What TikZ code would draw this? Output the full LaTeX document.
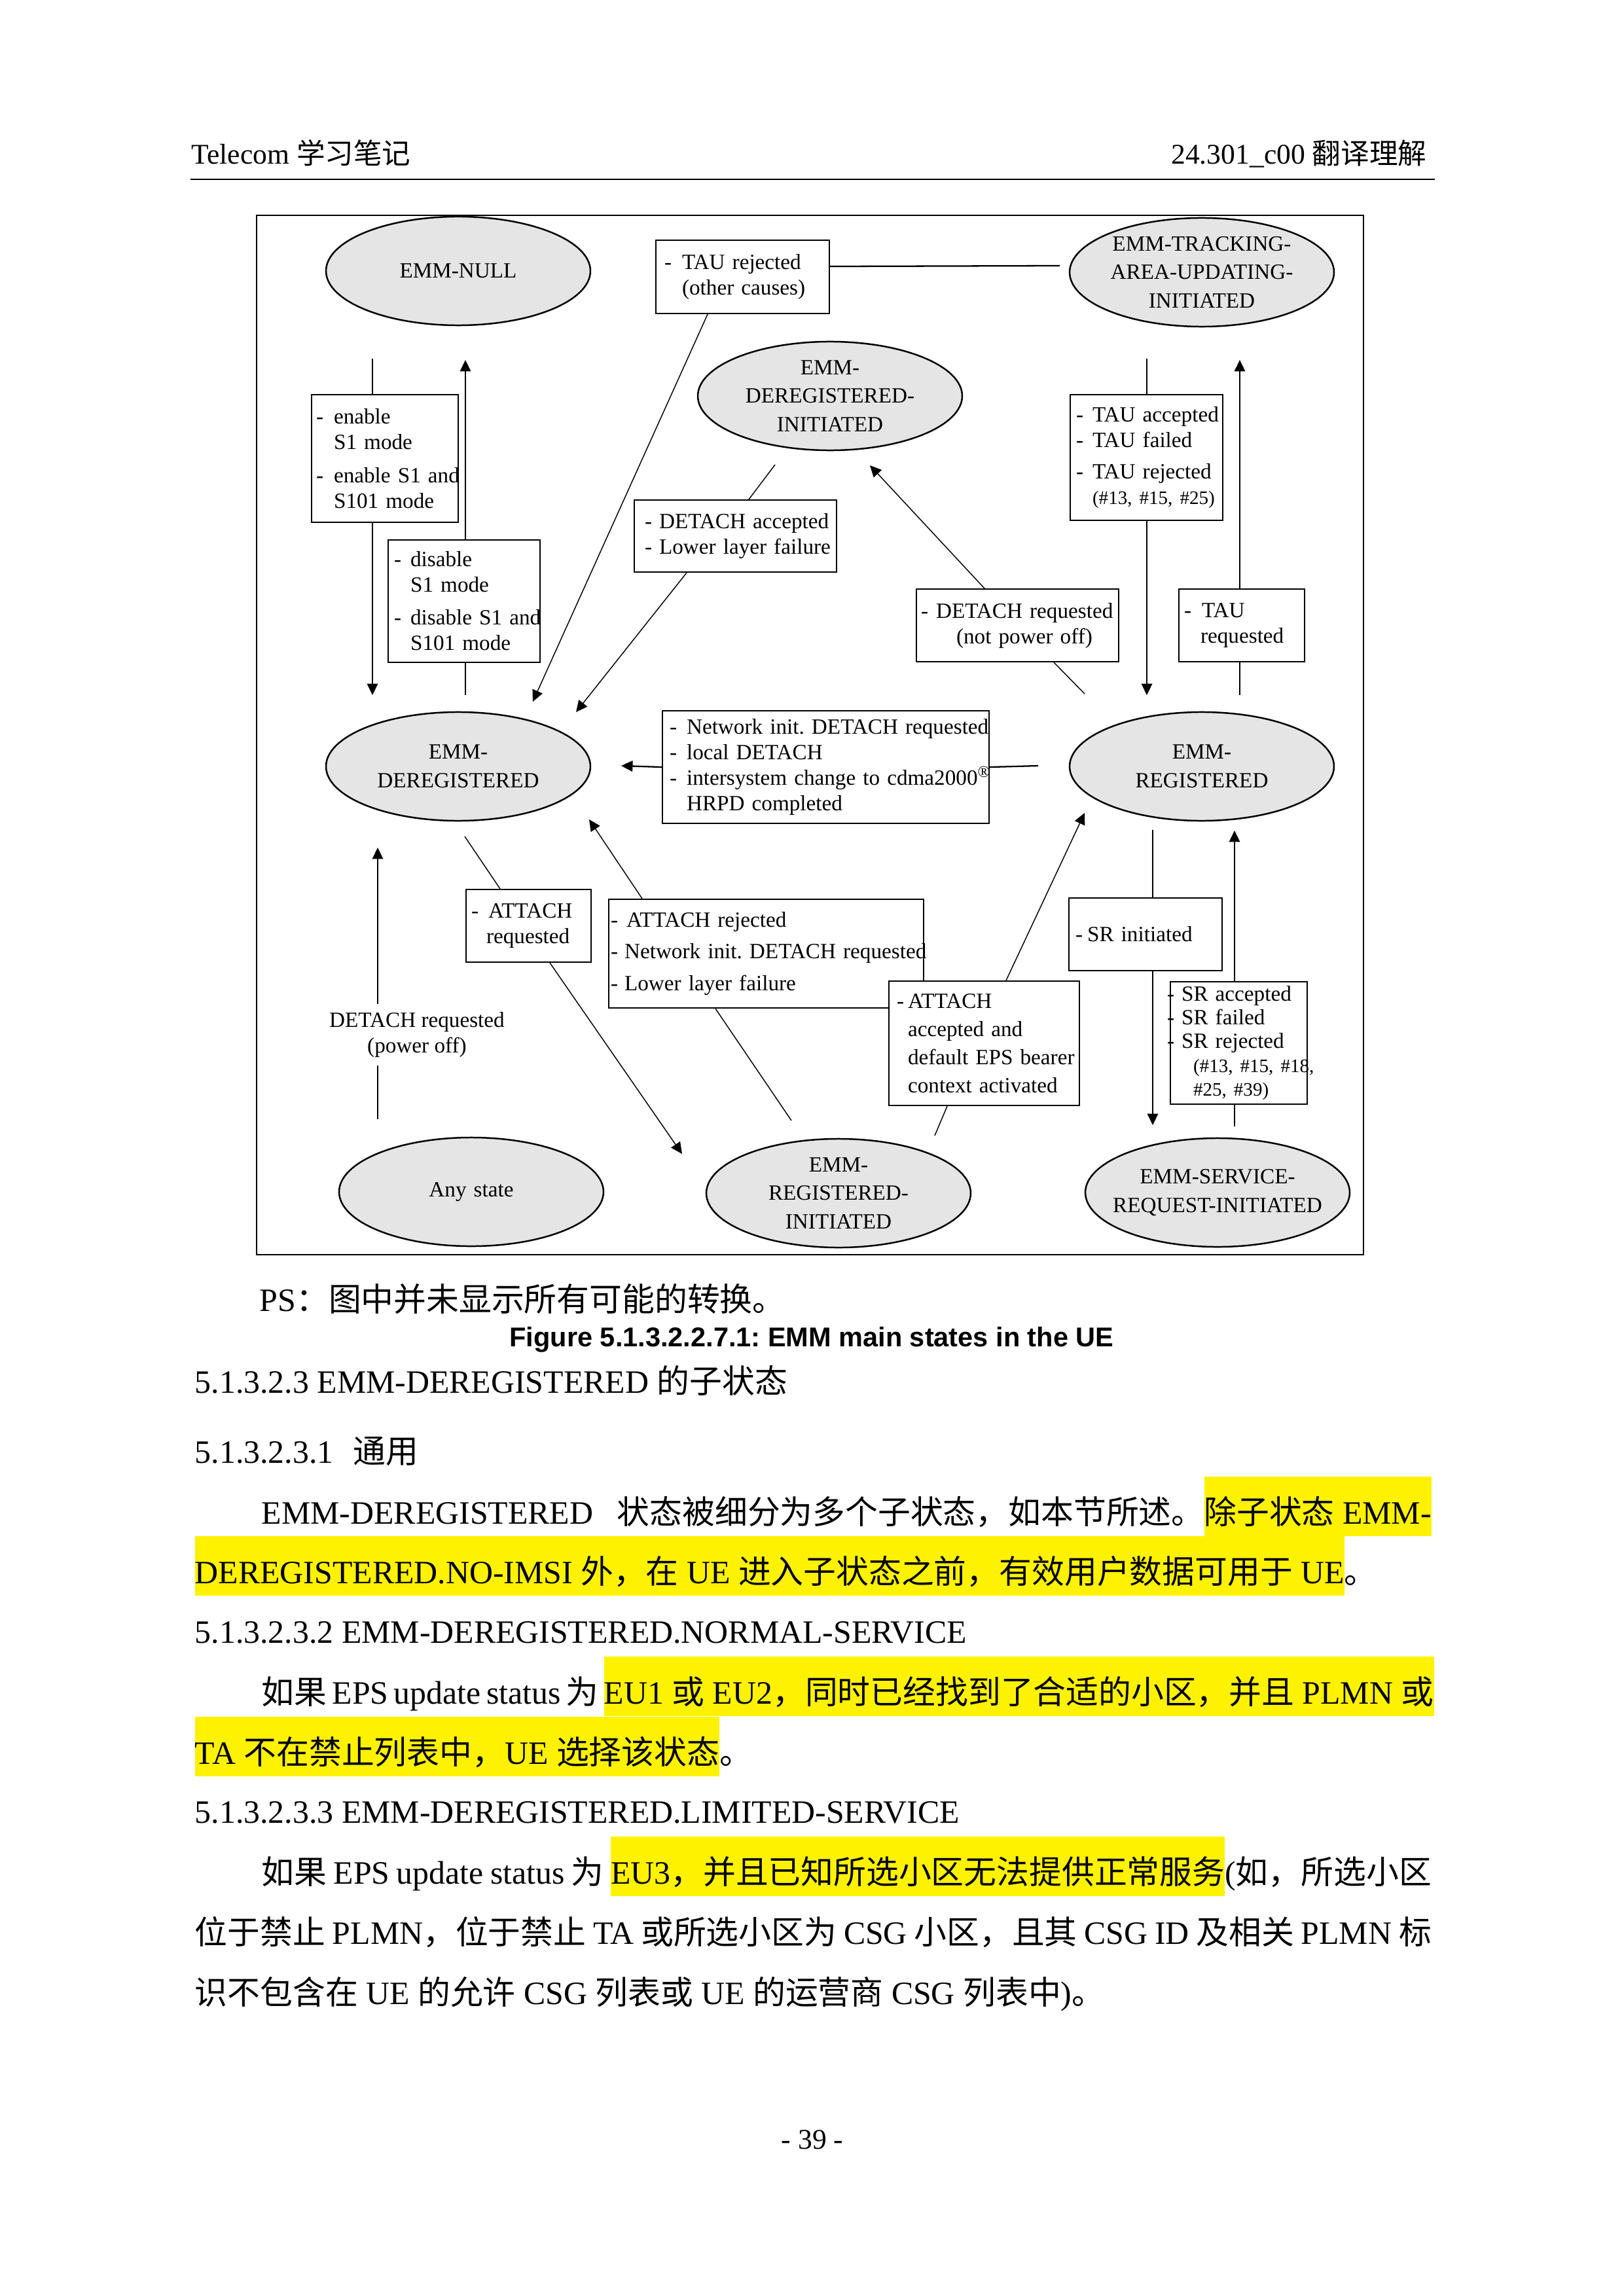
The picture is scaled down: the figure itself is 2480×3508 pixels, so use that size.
\documentclass[tikz,border=0pt]{standalone}
\usepackage{fontspec}
\setmainfont{Liberation Serif}
\newfontfamily\cjk{Noto Sans CJK SC}
\newfontfamily\capfont{Liberation Sans}
\usetikzlibrary{shapes.geometric,arrows.meta}
\definecolor{ellgray}{RGB}{229,229,229}
\newdimen\px \px=0.24088pt
\frenchspacing
\newcommand\zh[1]{{\cjk #1}}
\newcommand\boxfont{\fontsize{8}{9.4}\selectfont}
\newcommand\elline[1]{\makebox[0pt]{#1}}
\newcommand\bdsh[1][27]{\makebox[#1\px][l]{-}}
\newcommand\bspc[1][27]{\hspace*{#1\px}}
\newcommand\yhl[1]{{\fboxsep=0pt\colorbox{yellow}{\rule[-4.6pt]{0pt}{21.9pt}#1}}}
\tikzset{
  ell/.style={ellipse, draw, fill=ellgray, line width=0.6pt, minimum width=97.3pt,
    minimum height=40pt, inner sep=0pt, text width=0pt, align=center,
    font=\fontsize{8}{10.5}\selectfont},
  tbox/.style n args={5}{
    /utils/exec={%
      \pgfmathsetlengthmacro\tbw{(#3-#1-2*#5)*0.24088pt}%
      \pgfmathsetlengthmacro\tbh{(#4-#2)*0.24088pt}%
      \pgfmathsetlengthmacro\tbm{#5*0.24088pt}},
    text width/.expanded=\tbw, minimum height/.expanded=\tbh,
    inner xsep/.expanded=\tbm, inner ysep=0pt, draw, fill=white,
    line width=0.5pt, rectangle, anchor=north west, align=left, font=\boxfont},
  cn/.style={line width=0.35pt},
  cnt/.style={line width=0.55pt},
  arr/.style={-{Triangle[length=4.2pt,width=4pt]}},
  btxt/.style={anchor=base west, inner sep=0pt, font=\fontsize{12}{14}\selectfont},
}
\begin{document}
\begin{tikzpicture}[x=0.24088pt,y=-0.24088pt]
\fill[white] (0,0) rectangle (2480,3508);
\useasboundingbox (0,0) rectangle (2480,3508);

% header
\node[anchor=base west, inner sep=0pt, font=\fontsize{10.5}{12}\selectfont] (hl) at (292,251) {Telecom \zh{学习笔记}};
\node[anchor=base east, inner sep=0pt, font=\fontsize{10.5}{12}\selectfont] (hr) at (2180,251) {24.301\_c00 \zh{翻译理解}};
\draw[line width=0.5pt] (291,274) -- (2192,274);

% frame
\draw[line width=0.6pt] (392,329) rectangle (2083,1917);

% states
\node[ell] (null) at (700,414) {\elline{EMM-NULL}};
\node[ell] (tau) at (1836,416) {\elline{EMM-TRACKING-}\\\elline{AREA-UPDATING-}\\\elline{INITIATED}};
\node[ell] (deregInit) at (1268,605) {\elline{EMM-}\\\elline{DEREGISTERED-}\\\elline{INITIATED}};
\node[ell] (dereg) at (700,1171) {\elline{EMM-}\\\elline{DEREGISTERED}};
\node[ell] (reg) at (1836,1171) {\elline{EMM-}\\\elline{REGISTERED}};
\node[ell] (any) at (720,1821) {\elline{Any state}};
\node[ell] (regInit) at (1281,1823) {\elline{EMM-}\\\elline{REGISTERED-}\\\elline{INITIATED}};
\node[ell] (srI) at (1860,1822) {\elline{EMM-SERVICE-}\\\elline{REQUEST-INITIATED}};

% transition boxes
\node[tbox={1001}{366}{1266}{478}{13}] (tauRej) at (1001,366)
  {\mbox{\bdsh TAU rejected}\\\mbox{\bspc(other causes)}};
\node[tbox={475}{602}{699}{797}{7}] (enable) at (475,602)
  {\mbox{\bdsh enable}\\\mbox{\bspc S1 mode}\\[2.9pt]\mbox{\bdsh enable S1 and}\\\mbox{\bspc S101 mode}};
\node[tbox={592}{824}{824}{1011}{9}] (disable) at (592,824)
  {\mbox{\bdsh[25]disable}\\\mbox{\bspc[25]S1 mode}\\[2.6pt]\mbox{\bdsh[25]disable S1 and}\\\mbox{\bspc[25]S101 mode}};
\node[tbox={968}{763}{1277}{873}{16}] (detAcc) at (968,763)
  {\mbox{\bdsh[22]DETACH accepted}\\\mbox{\bdsh[22]Lower layer failure}};
\node[tbox={1399}{899}{1708}{1010}{7}] (detReq) at (1399,899)
  {\mbox{\bdsh[23]DETACH requested}\\\mbox{\bspc[54](not power off)}};
\node[tbox={1634}{602}{1867}{794}{9}] (tauAcc) at (1634,602)
  {\mbox{\bdsh[25]TAU accepted}\\\mbox{\bdsh[25]TAU failed}\\[2.2pt]\mbox{\bdsh[25]TAU rejected}\\\mbox{\bspc[25]{\fontsize{7}{8}\selectfont(\#13, \#15, \#25)}}};
\node[tbox={1800}{899}{1992}{1010}{8}] (tauReq) at (1800,899)
  {\mbox{\bdsh TAU}\\\mbox{\bspc[25]requested}};
\node[tbox={1011}{1085}{1510}{1257}{11}] (netDet) at (1011,1085)
  {\mbox{\bdsh[26]Network init. DETACH requested}\\\mbox{\bdsh[26]local DETACH}\\\mbox{\bdsh[26]intersystem change to cdma2000\textsuperscript{®}}\\\mbox{\bspc[26]HRPD completed}};
\node[tbox={711}{1358}{902}{1469}{8}] (attReq) at (711,1358)
  {\mbox{\bdsh[26]ATTACH}\\\mbox{\bspc[23]requested}};
\node[tbox={929}{1373}{1410}{1539}{3}, font=\fontsize{8}{11.8}\selectfont] (attRej) at (929,1373)
  {\mbox{\bdsh[24]ATTACH rejected}\\\mbox{\bdsh[21]Network init. DETACH requested}\\\mbox{\bdsh[21]Lower layer failure}};
\node[tbox={1357}{1498}{1648}{1688}{12}, font=\fontsize{8}{10.4}\selectfont] (attAcc) at (1357,1498)
  {\mbox{\bdsh[17]ATTACH}\\\mbox{\bspc[17]accepted and}\\\mbox{\bspc[17]default EPS bearer}\\\mbox{\bspc[17]context activated}};
\node[tbox={1632}{1371}{1866}{1482}{10}] (srInit) at (1632,1371)
  {\mbox{\bdsh[18]SR initiated}};
\node[tbox={1787}{1499}{1996}{1686}{0}, font=\fontsize{8}{8.7}\selectfont] (srAcc) at (1787,1499)
  {\mbox{\hspace*{-5\px}\bdsh[22]SR accepted}\\\mbox{\hspace*{-5\px}\bdsh[22]SR failed}\\\mbox{\hspace*{-5\px}\bdsh[22]SR rejected}\\\mbox{\bspc[35]{\fontsize{7}{8}\selectfont(\#13, \#15, \#18,}}\\\mbox{\bspc[35]{\fontsize{7}{8}\selectfont\#25, \#39)}}};
\node[align=center, inner xsep=0pt, inner ysep=2.9pt, font=\fontsize{8}{9.2}\selectfont] (detPow) at (637,1581)
  {DETACH requested\\(power off)};

% free ends of connectors
\coordinate (a1) at (569,548);   \coordinate (a2) at (569,1062);
\coordinate (b1) at (711,1062);  \coordinate (b2) at (711,550);
\coordinate (t1) at (1619,406);  \coordinate (t2) at (814,1072);
\coordinate (d1) at (1184,710);  \coordinate (d2) at (880,1088);
\coordinate (e1) at (1657,1060); \coordinate (e2) at (1329,711);
\coordinate (f1) at (1752,548);  \coordinate (f2) at (1752,1062);
\coordinate (g1) at (1894,1062); \coordinate (g2) at (1894,550);
\coordinate (h1) at (1586,1170); \coordinate (h2) at (949,1170);
\coordinate (i1) at (710,1278);  \coordinate (i2) at (1042,1763);
\coordinate (j1) at (1209,1712); \coordinate (j2) at (900,1252);
\coordinate (k1) at (1428,1735); \coordinate (k2) at (1657,1242);
\coordinate (l1) at (1761,1268); \coordinate (l2) at (1761,1719);
\coordinate (m1) at (1886,1721); \coordinate (m2) at (1886,1269);
\coordinate (n1) at (577,1710);  \coordinate (n2) at (577,1295);

% connectors
\draw[cn] (a1) -- (a1 |- enable.north);
\draw[cn,arr] (a1 |- enable.south) -- (a2);
\draw[cn] (b1) -- (b1 |- disable.south);
\draw[cn,arr] (b1 |- disable.north) -- (b2);
\draw[cnt] (t1) -- ([yshift=16*\px]tauRej.east);
\draw[cn,arr] ([xshift=80*\px]tauRej.south west) -- (t2);
\draw[cn] (d1) -- ([xshift=176*\px]detAcc.north west);
\draw[cn,arr] ([xshift=81*\px]detAcc.south west) -- (d2);
\draw[cn] (e1) -- ([xshift=211*\px]detReq.south west);
\draw[cn,arr] ([xshift=105*\px]detReq.north west) -- (e2);
\draw[cn] (f1) -- (f1 |- tauAcc.north);
\draw[cn,arr] (f1 |- tauAcc.south) -- (f2);
\draw[cn] (g1) -- (g1 |- tauReq.south);
\draw[cn,arr] (g1 |- tauReq.north) -- (g2);
\draw[cnt] (h1) -- (netDet.east);
\draw[cnt,arr] (netDet.west) -- (h2);
\draw[cn] (i1) -- ([xshift=53*\px]attReq.north west);
\draw[cn,arr] ([xshift=129*\px]attReq.south west) -- (i2);
\draw[cn] (j1) -- ([xshift=164*\px]attRej.south west);
\draw[cn,arr] ([xshift=52*\px]attRej.north west) -- (j2);
\draw[cn] (k1) -- ([xshift=90*\px]attAcc.south west);
\draw[cn,arr] ([xshift=180*\px]attAcc.north west) -- (k2);
\draw[cn] (l1) -- (l1 |- srInit.north);
\draw[cn,arr] (l1 |- srInit.south) -- (l2);
\draw[cn] (m1) -- (m1 |- srAcc.south);
\draw[cn,arr] (m1 |- srAcc.north) -- (m2);
\draw[cn] (n1) -- (n1 |- detPow.south);
\draw[cn,arr] (n1 |- detPow.north) -- (n2);

% text below the figure
\node[btxt] (ps) at (396,2003) {PS\zh{：图中并未显示所有可能的转换。}};
\node[anchor=base, inner sep=0pt, font=\capfont\bfseries\fontsize{10}{12}\selectfont] (cap) at (1240,2057) {Figure 5.1.3.2.2.7.1: EMM main states in the UE};
\node[btxt] (h1) at (297,2128) {5.1.3.2.3 EMM-DEREGISTERED \zh{的子状态}};
\node[btxt] (h2) at (297,2235) {5.1.3.2.3.1\hspace{0.6em}\zh{通用}};
\node[btxt] (p1a) at (399,2328) {\hbox to 1787\px{EMM-DEREGISTERED \zh{状态被细分为多个子状态，如本节所述。}\yhl{\zh{除子状态} EMM-}}};
\node[btxt] (p1b) at (297,2419) {\yhl{DEREGISTERED.NO-IMSI \zh{外，在} UE \zh{进入子状态之前，有效用户数据可用于} UE}\zh{。}};
\node[btxt] (h3) at (297,2510) {5.1.3.2.3.2 EMM-DEREGISTERED.NORMAL-SERVICE};
\node[btxt] (p2a) at (399,2603) {\hbox to 1787\px{\zh{如果} EPS update status \zh{为} \yhl{EU1 \zh{或} EU2\zh{，同时已经找到了合适的小区，并且} PLMN \zh{或}}}};
\node[btxt] (p2b) at (297,2695) {\yhl{TA \zh{不在禁止列表中，}UE \zh{选择该状态}}\zh{。}};
\node[btxt] (h4) at (297,2785) {5.1.3.2.3.3 EMM-DEREGISTERED.LIMITED-SERVICE};
\node[btxt] (p3a) at (399,2878) {\hbox to 1787\px{\zh{如果} EPS update status \zh{为} \yhl{EU3\zh{，并且已知所选小区无法提供正常服务}}(\zh{如，所选小区}}};
\node[btxt] (p3b) at (297,2970) {\hbox to 1889\px{\zh{位于禁止} PLMN\zh{，位于禁止} TA \zh{或所选小区为} CSG \zh{小区，且其} CSG ID \zh{及相关} PLMN \zh{标}}};
\node[btxt] (p3c) at (297,3062) {\zh{识不包含在} UE \zh{的允许} CSG \zh{列表或} UE \zh{的运营商} CSG \zh{列表中})\zh{。}};
\node[anchor=base, inner sep=0pt, font=\fontsize{10.5}{12}\selectfont] (pg) at (1241,3283) {- 39 -};
\end{tikzpicture}
\end{document}
